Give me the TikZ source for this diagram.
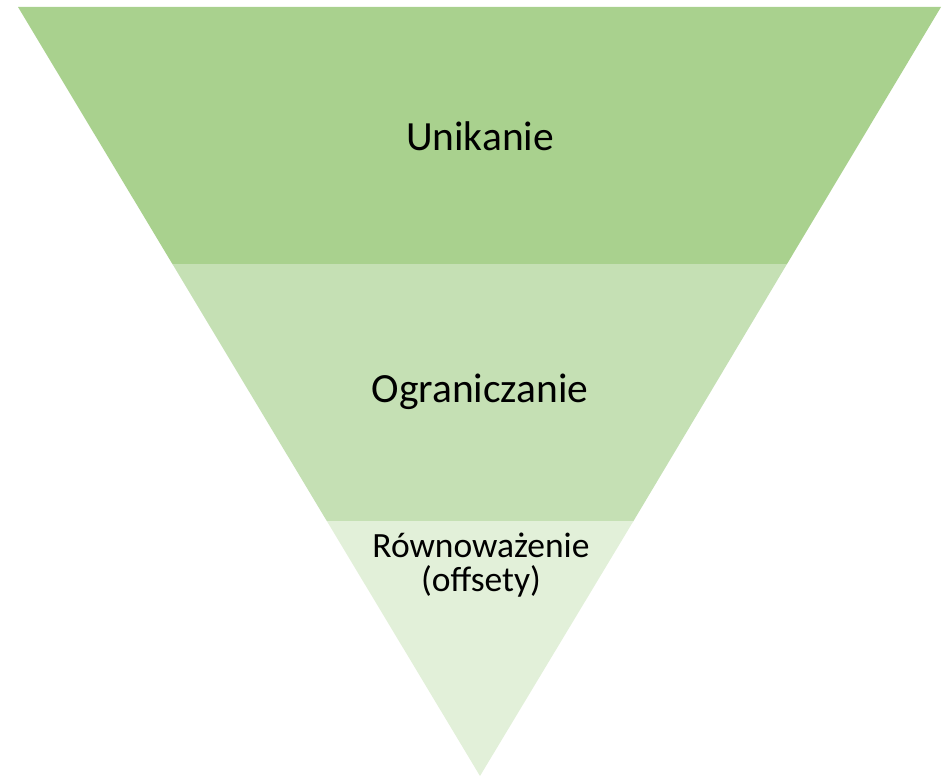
\documentclass[tikz,border=0pt]{standalone}
\usepackage{fontspec}
\setmainfont{Carlito}
\definecolor{bandA}{HTML}{A9D18E}
\definecolor{bandB}{HTML}{C5E0B4}
\definecolor{bandC}{HTML}{E2F0D9}
\begin{document}
\begin{tikzpicture}[x=1pt,y=-1pt,
  lbl/.style={font=\fontsize{41.5}{44}\selectfont, text=black, align=center},
  lblsmall/.style={font=\fontsize{35.5}{34}\selectfont, text=black, align=center}]
\useasboundingbox (0,0) rectangle (946,776);
\coordinate (TL) at (18,7);
\coordinate (TR) at (941,7);
\coordinate (AP) at (480,776);
\coordinate (L1) at (172.4,264);
\coordinate (R1) at (787,264);
\coordinate (L2) at (326.8,521);
\coordinate (R2) at (633.5,521);
\fill[bandA] (TL) -- (TR) -- (R1) -- (L1) -- cycle;
\fill[bandB] (L1) -- (R1) -- (R2) -- (L2) -- cycle;
\fill[bandC] (L2) -- (R2) -- (AP) -- cycle;
\node[lbl] (u) at (480,136) {Unikanie};
\node[lbl] (o) at (480,392) {Ograniczanie};
\node[lblsmall] (r) at (481,565) {Równoważenie\\(offsety)};
\end{tikzpicture}
\end{document}
